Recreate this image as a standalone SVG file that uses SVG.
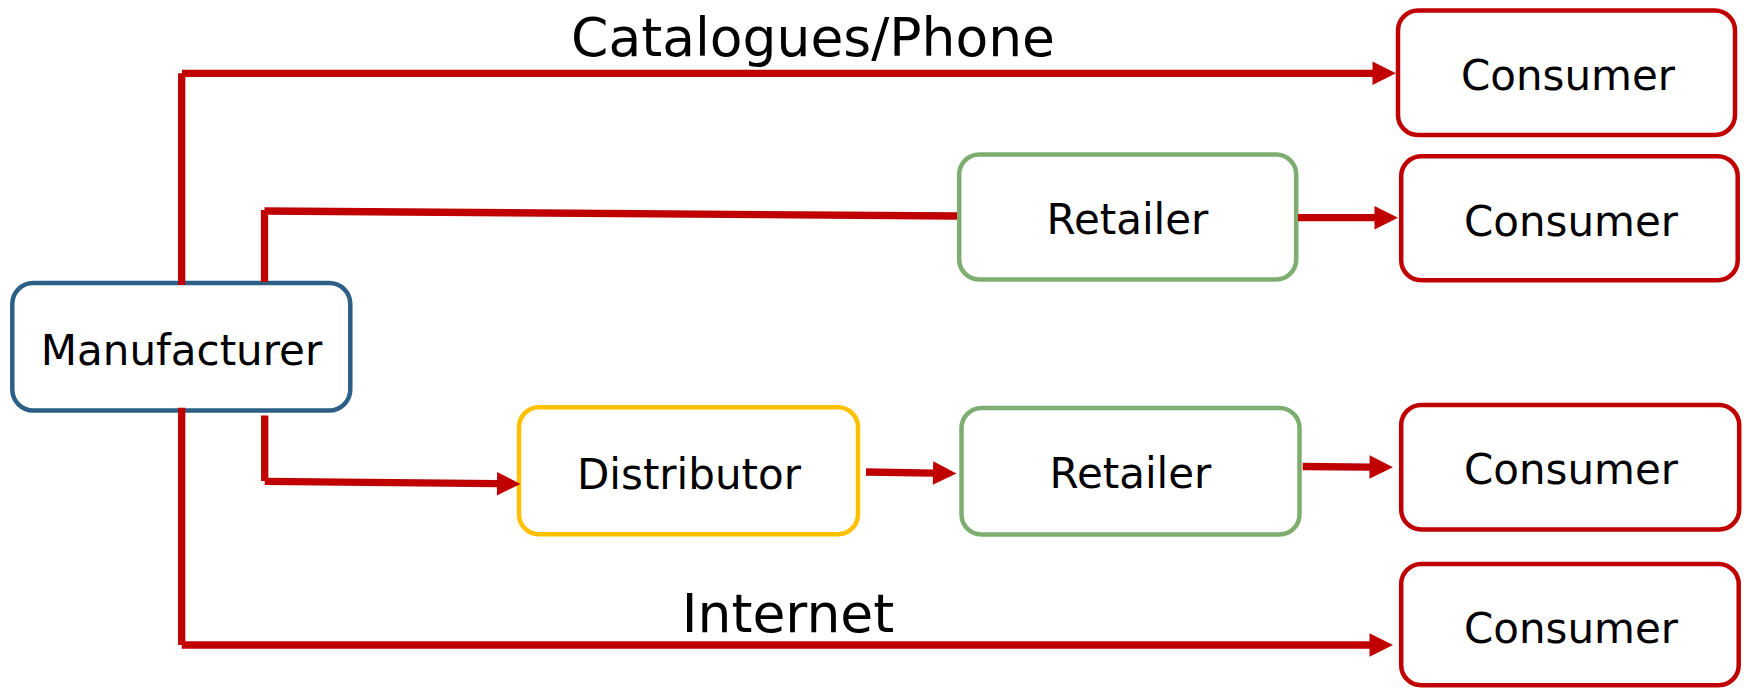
<svg xmlns="http://www.w3.org/2000/svg" width="1744" height="689" viewBox="0 0 1744 689">
<style>
.box{fill:#FFFFFF;stroke-width:4.5}
.mfr{stroke:#2B5F85}
.dist{stroke:#FFC000}
.ret{stroke:#7DAE70}
.con{stroke:#C00000}
.lbl{font-family:"DejaVu Sans","Liberation Sans",sans-serif;font-size:42px;fill:#000000;text-anchor:middle}
.big{font-family:"DejaVu Sans","Liberation Sans",sans-serif;font-size:53.5px;fill:#000000;text-anchor:middle}
.c{stroke:#C00000;stroke-width:7.3;fill:none;stroke-linecap:butt}
.a{marker-end:url(#arrow)}
</style>
<defs>
<marker id="arrow" markerUnits="userSpaceOnUse" markerWidth="24" markerHeight="24" refX="0.5" refY="11.75" orient="auto" overflow="visible">
<path d="M0,0 L23.5,11.75 L0,23.5 z" fill="#C00000"/>
</marker>
</defs>
<rect width="1744" height="689" fill="#FFFFFF"/>
<text class="big" x="813" y="56">Catalogues/Phone</text>
<text class="big" x="788" y="632">Internet</text>
<g id="manufacturer">
<rect class="box mfr" x="12.3" y="283" width="338" height="127.5" rx="21"/>
<text class="lbl" x="181.5" y="365">Manufacturer</text>
</g>
<g id="retailer1">
<rect class="box ret" x="959.2" y="154.5" width="337" height="125" rx="20"/>
<text class="lbl" x="1127.5" y="234">Retailer</text>
</g>
<g id="distributor">
<rect class="box dist" x="519" y="407.3" width="339" height="127" rx="20"/>
<text class="lbl" x="689" y="489">Distributor</text>
</g>
<g id="retailer2">
<rect class="box ret" x="961.5" y="408" width="338" height="126.5" rx="20"/>
<text class="lbl" x="1130.5" y="488">Retailer</text>
</g>
<g id="consumer1">
<rect class="box con" x="1398" y="10.5" width="337" height="124.5" rx="20"/>
<text class="lbl" x="1568" y="90">Consumer</text>
</g>
<g id="consumer2">
<rect class="box con" x="1401.2" y="156.2" width="336.5" height="124" rx="20"/>
<text class="lbl" x="1571" y="236">Consumer</text>
</g>
<g id="consumer3">
<rect class="box con" x="1401.2" y="405" width="338" height="124.5" rx="20"/>
<text class="lbl" x="1571" y="484">Consumer</text>
</g>
<g id="consumer4">
<rect class="box con" x="1401.2" y="564" width="337.5" height="121.3" rx="20"/>
<text class="lbl" x="1571" y="643">Consumer</text>
</g>
<g id="connectors">
<line class="c" x1="181.7" y1="285" x2="181.7" y2="73.3"/>
<line class="c a" x1="182" y1="73.3" x2="1373" y2="73.3"/>
<line class="c" x1="264.5" y1="282" x2="264.5" y2="210"/>
<line class="c" x1="264.5" y1="211" x2="957" y2="216"/>
<line class="c a" x1="1298" y1="217.7" x2="1375" y2="217.7"/>
<line class="c" x1="264.7" y1="415.5" x2="264.7" y2="481"/>
<line class="c a" x1="264.7" y1="481.3" x2="497.5" y2="483.7"/>
<line class="c a" x1="866" y1="472" x2="933.5" y2="473.1"/>
<line class="c a" x1="1302.7" y1="466.5" x2="1370" y2="467.1"/>
<line class="c" x1="181.7" y1="407.7" x2="181.7" y2="645"/>
<line class="c a" x1="181.7" y1="645" x2="1370" y2="645"/>
</g>
</svg>
